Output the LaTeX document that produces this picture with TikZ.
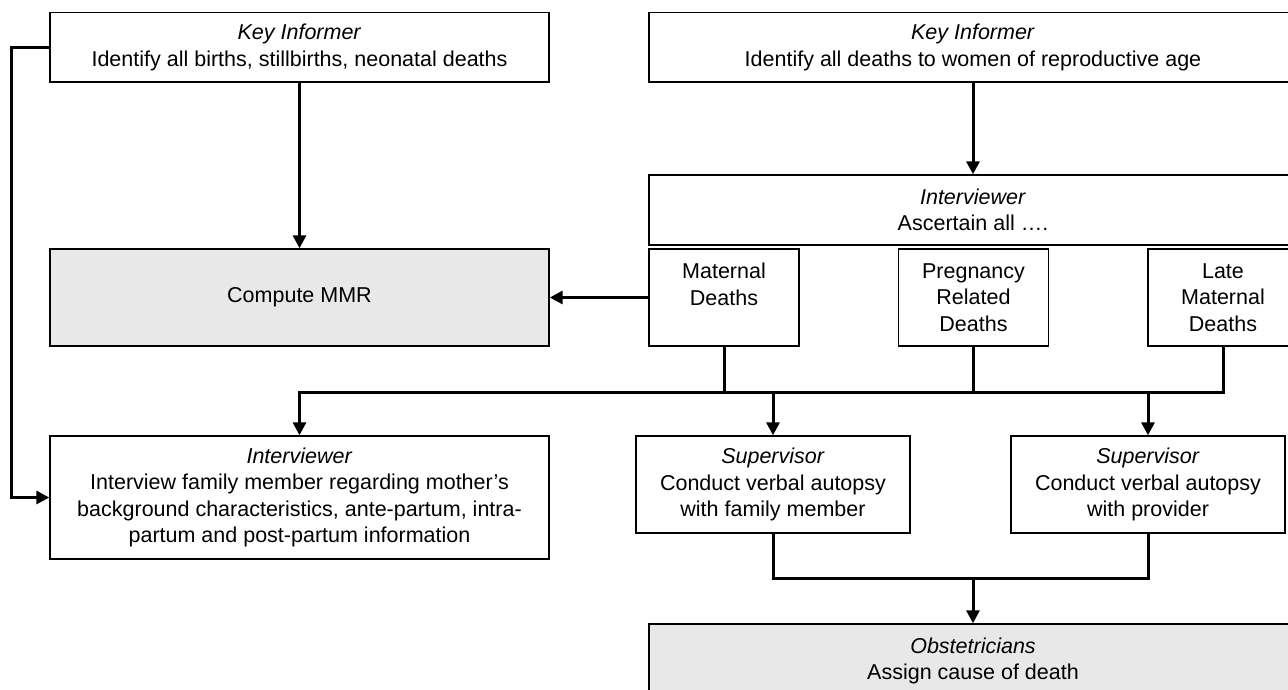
\documentclass[tikz,border=0pt]{standalone}
\usepackage{fontspec}
\setmainfont{Liberation Sans}
\usetikzlibrary{arrows.meta}
\definecolor{boxgray}{HTML}{E8E8E8}
\begin{document}
\begin{tikzpicture}[x=1pt,y=-1pt,
  box/.style={draw=black, line width=1.4pt, align=center, inner sep=0pt, fill=white,
              font=\fontsize{21.5}{26.5}\selectfont},
  gbox/.style={box, fill=boxgray},
  conn/.style={line width=3pt, line cap=rect},
  arr/.style={line width=3pt, -{Triangle[length=13pt,width=13pt]}}]
\useasboundingbox (0,0) rectangle (1288,690);
\fill[white] (0,0) rectangle (1288,690);
\clip (0,0) rectangle (1288,690);

% top row
\node[box, minimum width=499pt, minimum height=69.3pt] (ki1) at (299.5,47.35)
  {\textit{Key Informer}\\Identify all births, stillbirths, neonatal deaths};
\node[box, minimum width=648pt, minimum height=69.3pt] (ki2) at (973,47.35)
  {\textit{Key Informer}\\Identify all deaths to women of reproductive age};

% second row
\node[box, minimum width=648pt, minimum height=70pt] (int1) at (973,210)
  {\textit{Interviewer}\\Ascertain all \dots.};
\node[gbox, minimum width=499pt, minimum height=97pt] (mmr) at (299.5,297.5)
  {Compute MMR};
\node[box, minimum width=150pt, minimum height=97pt] (mat) at (724,297.5)
  {Maternal\\Deaths\\~};
\node[box, minimum width=150pt, minimum height=97pt] (preg) at (973.5,297.5)
  {Pregnancy\\Related\\Deaths};
\node[box, minimum width=150pt, minimum height=97pt] (late) at (1223,297.5)
  {Late\\Maternal\\Deaths};

% third row
\node[box, minimum width=499pt, minimum height=123pt] (int2) at (299.5,497.5)
  {\textit{Interviewer}\\Interview family member regarding mother’s\\background characteristics, ante-partum, intra-\\partum and post-partum information};
\node[box, minimum width=274pt, minimum height=97pt] (sup1) at (773,484.5)
  {\textit{Supervisor}\\Conduct verbal autopsy\\with family member};
\node[box, minimum width=274pt, minimum height=97pt] (sup2) at (1148,484.5)
  {\textit{Supervisor}\\Conduct verbal autopsy\\with provider};

% bottom
\node[gbox, minimum width=648pt, minimum height=74pt] (obst) at (973,661)
  {\textit{Obstetricians}\\Assign cause of death};

% connectors
\coordinate (fb) at (11,497.5);
\draw[arr] (ki1.west) -| (fb) -- (int2.west);
\draw[arr] (ki1.south) -- (mmr.north);
\draw[arr] (ki2.south) -- (int1.north);
\draw[arr] (mat.west) -- (mmr.east);

\coordinate (bl) at (299.5,392);
\coordinate (br) at (1223,392);
\draw[conn] (mat.south) -- (mat.south |- bl);
\draw[conn] (preg.south) -- (preg.south |- bl);
\draw[conn] (late.south) -- (br);
\draw[conn] (bl) -- (br);
\draw[arr] (bl) -- (int2.north);
\draw[arr] (sup1.north |- bl) -- (sup1.north);
\draw[arr] (sup2.north |- bl) -- (sup2.north);

\coordinate (lb) at (973,578);
\draw[conn] (sup1.south) |- (lb) -| (sup2.south);
\draw[arr] (lb) -- (obst.north);
\end{tikzpicture}
\end{document}
